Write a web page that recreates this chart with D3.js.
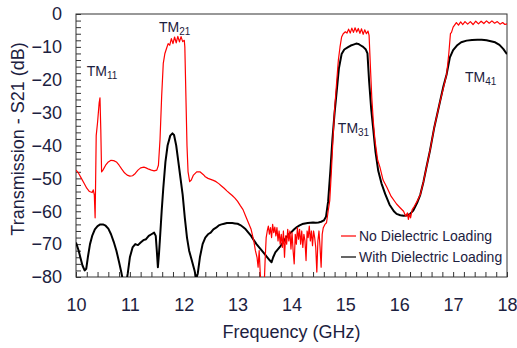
<!DOCTYPE html>
<html>
<head>
<meta charset="utf-8">
<script src="https://cdn.jsdelivr.net/npm/d3@7/dist/d3.min.js"></script>
<style>
  html, body { margin: 0; padding: 0; background: #fff; }
  svg { display: block; }
</style>
</head>
<body>
<svg id="chart" width="517" height="348"></svg>
<script>
// ---------- DATA ----------
const xTicks = [10, 11, 12, 13, 14, 15, 16, 17, 18];
const yTicks = [0, -10, -20, -30, -40, -50, -60, -70, -80];

const seriesNames = ["No Dielectric Loading", "With Dielectric Loading"];

const freqRed = [
  10.00,10.05,10.10,10.15,10.20,10.25,10.30,10.32,10.34,10.355,10.365,10.375,10.40,10.43,10.445,10.46,10.475,
  10.50,10.55,10.60,10.65,10.70,10.75,10.80,10.85,10.90,10.95,11.00,11.05,11.10,11.15,11.20,11.26,11.30,11.35,11.40,11.45,
  11.50,11.53,11.56,11.59,11.62,11.65,11.68,11.71,11.74,11.77,11.80,11.83,11.86,11.89,11.92,11.95,11.98,12.01,12.02,12.04,12.06,12.08,12.11,12.14,12.18,12.24,12.30,12.36,
  12.40,12.45,12.50,12.55,12.60,12.65,12.70,12.75,12.80,12.85,12.90,12.95,13.00,13.05,13.10,13.15,13.20,13.25,13.30,13.33,13.36,13.38,13.40,13.42,13.44,13.47,13.49,13.51,13.53,13.55,
  13.57,13.59,13.61,13.63,13.65,13.67,13.69,13.71,13.73,13.75,13.77,13.79,13.81,13.83,13.85,13.87,13.89,13.91,13.93,13.95,13.97,13.99,
  14.01,14.03,14.05,14.07,14.09,14.11,14.13,14.15,14.17,14.19,14.21,14.23,14.25,14.27,14.29,14.31,14.33,14.35,14.37,14.39,14.41,14.43,14.45,14.47,14.49,14.51,14.53,14.55,14.57,14.59,
  14.62,14.65,14.68,14.71,14.74,14.77,14.80,14.84,14.87,14.90,14.93,14.96,15.00,15.03,15.06,15.09,15.12,15.15,15.18,15.21,15.24,15.27,15.30,15.33,15.36,15.39,15.42,15.44,
  15.47,15.49,15.52,15.55,15.60,15.64,15.70,15.77,15.85,15.95,16.02,16.08,16.12,16.15,16.17,16.19,16.21,16.24,16.28,16.33,16.39,16.45,16.50,16.57,16.65,16.76,16.82,16.88,16.92,16.95,16.97,
  17.00,17.03,17.06,17.10,17.14,17.18,17.22,17.27,17.32,17.37,17.42,17.47,17.52,17.57,17.62,17.67,17.72,17.77,17.82,17.87,17.92,17.96,18.00
];
const dbRed = [
  -47.5,-48.5,-50,-51.5,-53,-54,-54.3,-53.5,-55,-62,-50,-37,-33,-27,-25.5,-35,-48,
  -47.5,-46,-45,-44.5,-44.6,-45,-46,-47.2,-48.3,-49,-49.3,-49.2,-48.5,-47.5,-46.8,-46.6,-46.8,-47.2,-47.5,-47.7,
  -47.5,-46,-38,-25,-15,-12,-10.5,-9,-9.5,-7.5,-9,-7,-8.8,-6.8,-8.5,-6.9,-8.4,-8,-10,-25,-40,-48,-51,-50.5,-49,-48,-48,-48.8,
  -49.5,-50,-50.3,-50.6,-51,-51.6,-52.3,-53,-53.8,-54.5,-55.2,-56,-57,-58.3,-59.5,-61.5,-63.5,-65.5,-69,-72,-74,-77,-72,-79,-83,-81,-84,-75,-68,-66,
  -64.5,-67,-65,-68,-64,-66.5,-64.8,-67.5,-65,-69,-66,-70,-67,-71,-66,-74,-67.5,-70,-65.5,-69,-66,-71.5,
  -66.5,-72,-76,-67,-70,-65,-68.5,-65.5,-70,-66,-71,-67,-69,-75,-66,-68,-64.5,-69,-66,-70.5,-66,-68,-71,-78.5,-69,-66,-71,-77,-67,-65,
  -64,-63.5,-60,-56.8,-48,-38,-29,-20.3,-14,-10.1,-7,-6,-5.4,-5.8,-4.6,-5.8,-4.3,-5.6,-4.2,-5.5,-4.4,-5.9,-4.5,-6.2,-4.8,-6.0,-5.2,-6.5,
  -18,-25.3,-33,-38.5,-44.5,-46.5,-50.5,-52.7,-55.5,-57.8,-59,-60,-61.5,-60.5,-62.5,-60.8,-62,-59.5,-58.5,-57,-55,-51,-47,-41.6,-34.5,-26.4,-22.5,-18.3,-12,-6,-5.6,
  -4,-3.3,-2.6,-3.4,-2.4,-3.2,-2.3,-3.1,-2.3,-3.2,-2.2,-3.0,-2.2,-2.9,-2.1,-2.8,-2.1,-2.8,-2.3,-3.1,-2.6,-3.2,-3.0
];

const freqBlack = [
  10.00,10.02,10.05,10.08,10.12,10.16,10.19,10.22,10.26,10.30,10.35,10.40,10.45,10.50,10.55,10.60,10.65,10.70,10.75,10.80,10.84,10.87,10.90,10.93,10.96,
  11.00,11.05,11.10,11.15,11.20,11.25,11.30,11.35,11.40,11.45,11.48,11.50,11.52,11.54,11.56,11.59,11.62,11.66,11.70,11.75,11.79,11.82,11.86,11.90,11.94,11.98,
  12.02,12.06,12.10,12.15,12.20,12.23,12.26,12.30,12.35,12.40,12.45,12.50,12.55,12.60,12.65,12.70,12.75,12.80,12.85,12.90,12.95,
  13.00,13.05,13.10,13.15,13.20,13.25,13.30,13.35,13.40,13.45,13.50,13.55,13.60,13.63,13.66,13.70,13.75,13.80,13.85,13.90,13.95,
  14.00,14.05,14.10,14.15,14.20,14.25,14.30,14.35,14.40,14.45,14.50,14.55,14.60,14.64,14.68,14.72,14.76,14.80,14.84,14.88,14.93,14.98,
  15.05,15.10,15.15,15.20,15.24,15.28,15.33,15.38,15.41,15.44,15.48,15.52,15.56,15.61,15.67,15.74,15.82,15.90,15.95,
  16.02,16.08,16.14,16.20,16.26,16.33,16.39,16.45,16.50,16.57,16.65,16.76,16.82,16.88,16.94,
  17.00,17.07,17.15,17.25,17.35,17.45,17.53,17.62,17.70,17.78,17.86,17.93,18.00
];
const dbBlack = [
  -69.5,-70.5,-72,-74,-76.5,-78,-77.5,-74,-70,-67.5,-65.5,-64.5,-64,-64,-64.4,-65.3,-67,-69.3,-72,-75.5,-78.5,-81,-84,-82,-79,
  -74,-71,-70,-70.3,-69.5,-68.8,-68.5,-67.5,-67,-66.5,-67.5,-72,-77,-73,-68,-60,-53,-45,-40,-37,-36.3,-36.8,-40,-45,-50,-55,
  -62,-68,-72,-75,-78,-80.5,-79,-74,-70,-68,-67,-66.5,-65.5,-65,-64.3,-64,-63.8,-63.6,-63.6,-63.6,-63.7,
  -63.8,-64.2,-64.8,-65.5,-66.5,-67.5,-68.8,-70,-71,-72,-73,-74,-75,-75.5,-74,-72.5,-71.5,-70.5,-69.3,-68,-67,
  -66.3,-65.5,-64.8,-64.3,-63.9,-63.7,-63.6,-63.5,-63.4,-63.5,-63.4,-63.2,-62.8,-61.7,-57,-48,-38,-30,-23.3,-16.5,-12.2,-10.8,
  -10.1,-9.6,-9.3,-9.0,-9.1,-9.5,-10,-10.8,-12,-20.3,-29,-35.5,-42,-47.7,-51.5,-54.8,-58,-60,-60.8,
  -61.2,-61.4,-61.3,-60.8,-59.8,-57.5,-55,-51,-47,-41.6,-34.5,-26.4,-22,-18.3,-13.2,
  -11,-9.6,-8.6,-8.1,-7.9,-7.8,-7.8,-8.0,-8.3,-8.6,-9.4,-10.6,-12.2
];

const modeLabels = [
  { main: "TM", sub: "11" },
  { main: "TM", sub: "21" },
  { main: "TM", sub: "31" },
  { main: "TM", sub: "41" }
];
const modeLabelPos = [[10.2, -19], [11.54, -5.5], [14.86, -36.2], [17.22, -20.8]];

// ---------- LAYOUT ----------
const svg = d3.select("#chart");
const M = { left: 76, top: 14, right: 507, bottom: 277 };
const textColor = "#1c2140";
const font = "Liberation Sans, Arial, Helvetica, sans-serif";

const x = d3.scaleLinear().domain([10, 18]).range([M.left, M.right]);
const y = d3.scaleLinear().domain([-80, 0]).range([M.bottom, M.top]);

svg.append("defs").append("clipPath").attr("id", "plotclip")
  .append("rect").attr("x", M.left).attr("y", M.top)
  .attr("width", M.right - M.left).attr("height", M.bottom - M.top);

// frame
svg.append("rect")
  .attr("x", M.left).attr("y", M.top)
  .attr("width", M.right - M.left).attr("height", M.bottom - M.top)
  .attr("fill", "none").attr("stroke", "#333").attr("stroke-width", 1);

// minor ticks (inward)
const xMinor = d3.range(10, 18.001, 0.2);
const yMinor = d3.range(-80, 0.001, 2);

const xAxis = d3.axisBottom(x).tickValues(xMinor).tickSizeInner(-5).tickSizeOuter(0).tickFormat("");
const gx = svg.append("g").attr("transform", `translate(0,${M.bottom})`).call(xAxis);
gx.select(".domain").remove();
gx.selectAll("line").attr("stroke", "#333");

const yAxis = d3.axisLeft(y).tickValues(yMinor).tickSizeInner(-5).tickSizeOuter(0).tickFormat("");
const gy = svg.append("g").attr("transform", `translate(${M.left},0)`).call(yAxis);
gy.select(".domain").remove();
gy.selectAll("line").attr("stroke", "#333");

// tick labels
const gxl = svg.append("g").attr("transform", `translate(0,${M.bottom})`)
  .call(d3.axisBottom(x).tickValues(xTicks).tickSize(0).tickPadding(21).tickFormat(d3.format("d")));
gxl.select(".domain").remove();
gxl.selectAll("text").attr("font-family", font).attr("font-size", 18).attr("fill", textColor);

const gyl = svg.append("g").attr("transform", `translate(${M.left},0)`)
  .call(d3.axisLeft(y).tickValues(yTicks).tickSize(0).tickPadding(14).tickFormat(d3.format("d")));
gyl.select(".domain").remove();
gyl.selectAll("text").attr("font-family", font).attr("font-size", 18).attr("fill", textColor);

// axis titles
svg.append("text")
  .attr("x", (M.left + M.right) / 2).attr("y", 338)
  .attr("text-anchor", "middle")
  .attr("font-family", font).attr("font-size", 18).attr("fill", textColor)
  .text("Frequency (GHz)");
svg.append("text")
  .attr("transform", `translate(24,139) rotate(-90)`)
  .attr("text-anchor", "middle")
  .attr("font-family", font).attr("font-size", 18).attr("fill", textColor)
  .text("Transmission - S21 (dB)");

// lines
const line = d3.line().x(d => x(d[0])).y(d => y(d[1]));
const redPts = freqRed.map((f, i) => [f, dbRed[i]]);
const blackPts = freqBlack.map((f, i) => [f, dbBlack[i]]);

const plot = svg.append("g").attr("clip-path", "url(#plotclip)");
plot.append("path").datum(blackPts).attr("d", line)
  .attr("fill", "none").attr("stroke", "#000").attr("stroke-width", 2).attr("stroke-linejoin", "round");
plot.append("path").datum(redPts).attr("d", line)
  .attr("fill", "none").attr("stroke", "#ff0000").attr("stroke-width", 1.2).attr("stroke-linejoin", "round");

// mode labels
modeLabels.forEach((m, i) => {
  const t = svg.append("text")
    .attr("x", x(modeLabelPos[i][0])).attr("y", y(modeLabelPos[i][1]))
    .attr("font-family", font).attr("font-size", 14).attr("fill", textColor);
  t.append("tspan").text(m.main);
  t.append("tspan").attr("font-size", 10).attr("dy", 3).text(m.sub);
});

// legend
const legColors = ["#ff0000", "#000"];
seriesNames.forEach((name, i) => {
  const ly = 236 + i * 21;
  svg.append("line").attr("x1", 341).attr("x2", 356).attr("y1", ly).attr("y2", ly)
    .attr("stroke", legColors[i]).attr("stroke-width", 1.2);
  svg.append("text").attr("x", 359).attr("y", ly + 5)
    .attr("font-family", font).attr("font-size", 14).attr("fill", textColor)
    .text(name);
});
</script>
</body>
</html>
